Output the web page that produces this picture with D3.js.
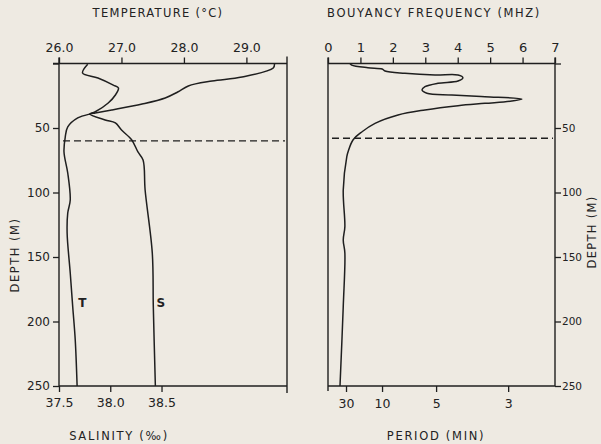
<!DOCTYPE html>
<html><head><meta charset="utf-8">
<script src="https://cdn.jsdelivr.net/npm/d3@7"></script>
<style>
html,body{margin:0;padding:0;background:#eeeae2;}
svg{display:block;}
text{font-family:"DejaVu Sans",sans-serif;fill:#222;}
</style></head><body>
<script>
// ---- data ----
const tempDepth = [0, 3.5, 10.5, 13.6, 17.4, 22.1, 26.7, 31.4, 36.0, 38.4, 39.1, 42.2, 49.2, 57.0, 68.6, 84.9, 105.8, 115.9, 131.4, 162.4, 188.8, 214.3, 250];
const tempValues = [29.45, 29.43, 28.93, 28.45, 28.07, 27.90, 27.70, 27.33, 26.85, 26.58, 26.50, 26.30, 26.14, 26.10, 26.08, 26.14, 26.18, 26.14, 26.13, 26.18, 26.22, 26.26, 26.29];
const salDepth = [0.6, 7.4, 11.2, 16.7, 19.0, 24.4, 30.6, 37.6, 39.1, 43.8, 46.1, 51.6, 59.3, 68.6, 74.8, 98.1, 146.9, 188.8, 250];
const salValues = [37.78, 37.73, 37.88, 38.03, 38.08, 38.05, 37.98, 37.85, 37.80, 37.95, 38.05, 38.11, 38.21, 38.27, 38.32, 38.34, 38.41, 38.42, 38.44];
const nDepth = [0, 1.2, 3.3, 4.3, 5.8, 7.6, 8.9, 8.9, 11.0, 13.6, 15.3, 18.0, 20.5, 23.1, 24.4, 25.7, 27.5, 29.1, 30.9, 32.7, 36.0, 39.9, 46.4, 52.9, 59.3, 68.4, 72.2, 98.1, 126.5, 136.8, 146.9, 188.5, 250];
const nValues = [0.68, 0.73, 1.23, 1.67, 1.76, 2.37, 3.30, 4.01, 4.16, 4.01, 3.39, 2.99, 2.90, 3.05, 3.82, 4.84, 5.98, 5.67, 4.84, 4.01, 2.99, 2.16, 1.45, 1.05, 0.77, 0.62, 0.58, 0.47, 0.52, 0.47, 0.52, 0.47, 0.37];
const mixedLayerDepth = [60, 58]; // left panel, right panel
const tempTicks = [26, 27, 28, 29];
const salTicks = [37.5, 38.0, 38.5];
const freqTicks = [0, 1, 2, 3, 4, 5, 6, 7];
const periodTicks = [30, 10, 5, 3];
const depthTicks = [0, 50, 100, 150, 200, 250];

// ---- layout ----
const W = 601, H = 444;
const L = {x0: 59, x1: 287};
const R = {x0: 328, x1: 555};
const yTop = 63.5, yBot = 386;

const svg = d3.select("body").append("svg").attr("width", W).attr("height", H);
const ink = "#1f1f1f";

const y = d3.scaleLinear().domain([0, 250]).range([yTop, yBot]);
const xT = d3.scaleLinear().domain([26, 29.65]).range([L.x0, L.x1]);
const xS = d3.scaleLinear().domain([37.5, 39.724]).range([L.x0, L.x1]);
const xN = d3.scaleLinear().domain([0, 7]).range([R.x0, R.x1]);
const periodToN = p => 1000 / (60 * p); // mHz from period in minutes

function styleAxis(g, fs) {
  g.select(".domain").remove();
  g.selectAll(".tick line").attr("stroke", ink).attr("stroke-width", 1.3);
  g.selectAll(".tick text").attr("fill", ink).style("font-family", "DejaVu Sans, sans-serif").style("font-size", fs + "px");
}
function line(x1, y1, x2, y2, w = 1.4) {
  svg.append("line").attr("x1", x1).attr("y1", y1).attr("x2", x2).attr("y2", y2)
    .attr("stroke", ink).attr("stroke-width", w);
}

// ---- left panel frame ----
line(L.x0 - 6, yTop, L.x1, yTop);
line(L.x0, yTop - 6, L.x0, yBot);
line(L.x1, yTop - 7, L.x1, yBot + 7);
line(L.x0, yBot, L.x1, yBot);

svg.append("g").attr("transform", `translate(0,${yTop})`)
  .call(d3.axisTop(xT).tickValues(tempTicks).tickFormat(d3.format(".1f")).tickSize(6).tickPadding(6))
  .call(g => styleAxis(g, 12.5));
svg.append("g").attr("transform", `translate(0,${yBot})`)
  .call(d3.axisBottom(xS).tickValues(salTicks).tickFormat(d3.format(".1f")).tickSize(6).tickPadding(6))
  .call(g => styleAxis(g, 12.5));
svg.append("g").attr("transform", `translate(${L.x0},0)`)
  .call(d3.axisLeft(y).tickValues(depthTicks).tickFormat(d => d === 0 ? "" : d).tickSize(6).tickPadding(3))
  .call(g => styleAxis(g, 12));

// ---- right panel frame ----
line(R.x0, yTop, R.x1, yTop);
line(R.x0, yTop - 6, R.x0, yBot + 5);
line(R.x1, yTop - 6, R.x1, yBot);
line(R.x0, yBot, R.x1, yBot);

svg.append("g").attr("transform", `translate(0,${yTop})`)
  .call(d3.axisTop(xN).tickValues(freqTicks).tickFormat(d3.format("d")).tickSize(6).tickPadding(6))
  .call(g => styleAxis(g, 13));
svg.append("g").attr("transform", `translate(0,${yBot})`)
  .call(d3.axisBottom(xN).tickValues(periodTicks.map(periodToN)).tickFormat((d, i) => periodTicks[i]).tickSize(6).tickPadding(7))
  .call(g => styleAxis(g, 12.5));
svg.append("g").attr("transform", `translate(${R.x1},0)`)
  .call(d3.axisRight(y).tickValues(depthTicks).tickFormat(d => d === 0 ? "" : d).tickSize(6).tickPadding(1))
  .call(g => styleAxis(g, 10.5));

// ---- mixed layer dashed lines ----
svg.append("line").attr("x1", L.x0 + 4).attr("x2", L.x1 - 2)
  .attr("y1", y(mixedLayerDepth[0])).attr("y2", y(mixedLayerDepth[0]))
  .attr("stroke", ink).attr("stroke-width", 1.4).attr("stroke-dasharray", "7,4");
svg.append("line").attr("x1", R.x0 + 4).attr("x2", R.x1 - 2)
  .attr("y1", y(mixedLayerDepth[1])).attr("y2", y(mixedLayerDepth[1]))
  .attr("stroke", ink).attr("stroke-width", 1.4).attr("stroke-dasharray", "7,4");

// ---- curves ----
const curve = d3.curveCatmullRom.alpha(0.5);
function drawCurve(xs, depths, vals) {
  const pts = depths.map((d, i) => [xs(vals[i]), y(d)]);
  svg.append("path").attr("d", d3.line().curve(curve)(pts))
    .attr("fill", "none").attr("stroke", ink).attr("stroke-width", 1.5);
}
drawCurve(xT, tempDepth, tempValues);
drawCurve(xS, salDepth, salValues);
drawCurve(xN, nDepth, nValues);

// curve labels
svg.append("text").attr("x", xT(26.31)).attr("y", y(189)).text("T").style("font-size", "12px").style("font-weight", "bold");
svg.append("text").attr("x", xS(38.45)).attr("y", y(189)).text("S").style("font-size", "12px").style("font-weight", "bold");

// ---- titles ----
function title(t, x, yy, ls, rot) {
  const el = svg.append("text").attr("text-anchor", "middle").style("font-size", "11.5px")
    .style("letter-spacing", ls + "px").text(t);
  if (rot) el.attr("transform", `translate(${x},${yy}) rotate(-90)`);
  else el.attr("x", x).attr("y", yy);
}
title("TEMPERATURE (°C)", 158, 17, 1.3);
title("BOUYANCY FREQUENCY (MHZ)", 434, 17, 1.6);
title("SALINITY  (‰)", 119, 440, 1.7);
title("PERIOD  (MIN)", 436, 440, 1.7);
title("DEPTH  (M)", 19, 255, 1.5, true);
title("DEPTH  (M)", 596, 232, 1.3, true);
</script>
</body></html>
